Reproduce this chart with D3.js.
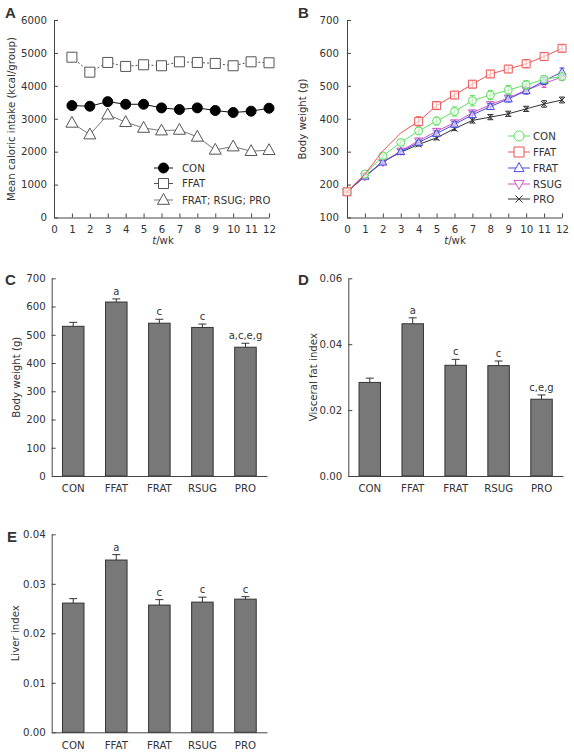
<!DOCTYPE html>
<html><head><meta charset="utf-8">
<script src="https://cdn.jsdelivr.net/npm/d3@7"></script>
<style>
body{margin:0;background:#fff}
text{font-family:"DejaVu Sans",Verdana,sans-serif;fill:#333}
</style>
</head><body>
<svg id="c" width="574" height="752"></svg>
<script>
// ---------- DATA ----------
// Panel A: mean caloric intake (kcal/group)
const weeksA = [1,2,3,4,5,6,7,8,9,10,11,12];
const caloricCON  = [3400,3380,3520,3440,3440,3330,3280,3330,3250,3190,3230,3320];
const caloricFFAT = [4870,4415,4710,4590,4640,4610,4730,4710,4680,4610,4730,4700];
const caloricFRAT = [2875,2520,3125,2895,2720,2640,2660,2450,2055,2155,2015,2045];
const seriesA = ["CON","FFAT","FRAT; RSUG; PRO"];
const ticksAy = [0,1000,2000,3000,4000,5000,6000];
const ticksAx = [0,1,2,3,4,5,6,7,8,9,10,11,12];

// Panel B: body weight (g) by week
const weeksB = [0,1,2,3,4,5,6,7,8,9,10,11,12];
const bwCON  = [178,232,287,328,363,393,422,455,472,487,503,520,528];
const bwFFAT = [178,232,302,357,392,440,472,505,536,551,567,589,614];
const bwFRAT = [178,225,268,300,328,355,383,412,437,460,485,515,542];
const bwRSUG = [178,225,268,302,333,362,388,418,443,463,487,507,527];
const bwPRO  = [178,225,270,298,322,342,370,395,405,415,430,445,457];
const errCON  = [3,4,6,8,10,12,14,16,14,14,13,10,8];
const errFFAT = [3,4,6,8,14,10,10,10,10,10,12,12,10];
const errFRAT = [3,3,5,6,7,8,8,9,9,9,10,11,12];
const errRSUG = [3,3,5,6,6,7,7,8,8,8,9,12,10];
const errPRO  = [3,3,4,5,5,6,6,8,8,8,8,10,9];
const groupsB = ["CON","FFAT","FRAT","RSUG","PRO"];
const ticksBy = [100,200,300,400,500,600,700];

// Bar panels
const groups = ["CON","FFAT","FRAT","RSUG","PRO"];
const bodyWeight    = [530,616,541,526,456];
const bodyWeightErr = [14,11,14,12,14];
const bodyWeightSig = ["","a","c","c","a,c,e,g"];
const ticksC = [0,100,200,300,400,500,600,700];

const visceralFat    = [0.0284,0.0462,0.0336,0.0335,0.0233];
const visceralFatErr = [0.0013,0.0018,0.0018,0.0014,0.0013];
const visceralFatSig = ["","a","c","c","c,e,g"];
const ticksD = [0.00,0.02,0.04,0.06];

const liverIndex    = [0.0261,0.0348,0.0257,0.0263,0.0269];
const liverIndexErr = [0.0009,0.0011,0.0011,0.0010,0.0005];
const liverIndexSig = ["","a","c","c","c"];
const ticksE = [0.00,0.01,0.02,0.03,0.04];

// ---------- DRAW ----------
const svg = d3.select("#c");
const FS = 10.2;
const axisColor = "#444";

function styleAxis(g){
  g.selectAll("path,line").attr("stroke",axisColor).attr("stroke-width",1);
  g.selectAll("text").style("font-size",FS+"px").attr("fill","#333");
}

function panelLetter(t,x,y){
  svg.append("text").attr("x",x).attr("y",y).text(t)
    .style("font-family","'Liberation Sans',Arial,sans-serif")
    .style("font-weight","bold").style("font-size","15px").attr("fill","#111");
}

function markerPath(type,size){
  const s=size;
  if(type==="circle") return d3.symbol(d3.symbolCircle, s*s*Math.PI/4)();
  if(type==="square") return `M${-s/2},${-s/2}h${s}v${s}h${-s}Z`;
  if(type==="triUp") {const h=s*0.9; return `M0,${-h*0.6}L${s/2},${h*0.4}L${-s/2},${h*0.4}Z`;}
  if(type==="triDown"){const h=s*0.9; return `M0,${h*0.6}L${s/2},${-h*0.4}L${-s/2},${-h*0.4}Z`;}
  if(type==="x") {const r=s/2; return `M${-r},${-r}L${r},${r}M${-r},${r}L${r},${-r}`;}
}

// ===== Panel A =====
(function(){
  const x = d3.scaleLinear().domain([0,12]).range([54,269]);
  const y = d3.scaleLinear().domain([0,6000]).range([217.5,20]);
  const gx = svg.append("g").attr("transform","translate(0,217.5)")
    .call(d3.axisBottom(x).tickValues(ticksAx).tickSizeInner(-4).tickSizeOuter(0).tickPadding(8).tickFormat(d3.format("d")));
  styleAxis(gx);
  const gy = svg.append("g").attr("transform","translate(54,0)")
    .call(d3.axisLeft(y).tickValues(ticksAy).tickSizeInner(-4).tickSizeOuter(0).tickPadding(7).tickFormat(d3.format("d")));
  styleAxis(gy);
  svg.append("text").attr("transform","translate(15,119) rotate(-90)").attr("text-anchor","middle")
    .style("font-size",FS+"px").text("Mean caloric intake (kcal/group)");
  const xt = svg.append("text").attr("x",163).attr("y",244).attr("text-anchor","middle").style("font-size",FS+"px");
  xt.append("tspan").style("font-style","italic").text("t");
  xt.append("tspan").text("/wk");

  const defs = [
    {vals:caloricCON, stroke:"#111", dash:null, mk:"circle", fill:"#000", size:10},
    {vals:caloricFFAT, stroke:"#555", dash:"2,2", mk:"square", fill:"#fff", size:10},
    {vals:caloricFRAT, stroke:"#777", dash:null, mk:"triUp", fill:"#fff", size:12}
  ];
  const line = d3.line().x((d,i)=>x(weeksA[i])).y(d=>y(d));
  defs.forEach(s=>{
    svg.append("path").attr("d",line(s.vals)).attr("fill","none").attr("stroke",s.stroke)
      .attr("stroke-width",1).attr("stroke-dasharray",s.dash);
    svg.append("g").selectAll("path").data(s.vals).join("path")
      .attr("transform",(d,i)=>`translate(${x(weeksA[i])},${y(d)})`)
      .attr("d",markerPath(s.mk,s.size)).attr("fill",s.fill).attr("stroke",s.mk==="circle"?"#000":"#555").attr("stroke-width",1);
  });
  // legend
  const ly=[168,183.5,200];
  defs.forEach((s,i)=>{
    svg.append("line").attr("x1",154).attr("x2",173).attr("y1",ly[i]).attr("y2",ly[i]).attr("stroke",s.stroke);
    svg.append("path").attr("transform",`translate(163.5,${ly[i]})`).attr("d",markerPath(s.mk,s.size))
      .attr("fill",s.fill).attr("stroke",s.mk==="circle"?"#000":"#555");
    svg.append("text").attr("x",182).attr("y",ly[i]).attr("dy","0.35em").style("font-size",FS+"px").text(seriesA[i]);
  });
  panelLetter("A",5,18);
})();

// ===== Panel B =====
(function(){
  const x = d3.scaleLinear().domain([0,12]).range([347,562]);
  const y = d3.scaleLinear().domain([100,700]).range([217.5,20]);
  const gx = svg.append("g").attr("transform","translate(0,217.5)")
    .call(d3.axisBottom(x).tickValues(ticksAx).tickSizeInner(-4).tickSizeOuter(0).tickPadding(8).tickFormat(d3.format("d")));
  styleAxis(gx);
  const gy = svg.append("g").attr("transform","translate(347,0)")
    .call(d3.axisLeft(y).tickValues(ticksBy).tickSizeInner(-4).tickSizeOuter(0).tickPadding(8).tickFormat(d3.format("d")));
  styleAxis(gy);
  svg.append("text").attr("transform","translate(306,119) rotate(-90)").attr("text-anchor","middle")
    .style("font-size",FS+"px").text("Body weight (g)");
  const xt = svg.append("text").attr("x",455).attr("y",244).attr("text-anchor","middle").style("font-size",FS+"px");
  xt.append("tspan").style("font-style","italic").text("t");
  xt.append("tspan").text("/wk");

  const series = [
    {vals:bwPRO,  err:errPRO,  color:"#333",    mk:"x"},
    {vals:bwRSUG, err:errRSUG, color:"#d055c8", mk:"triDown"},
    {vals:bwFRAT, err:errFRAT, color:"#4a4ad8", mk:"triUp"},
    {vals:bwCON,  err:errCON,  color:"#5fe05f", mk:"circle"},
    {vals:bwFFAT, err:errFFAT, color:"#ee5555", mk:"square"}
  ];
  const names = {x:"PRO",triDown:"RSUG",triUp:"FRAT",circle:"CON",square:"FFAT"};
  const line = d3.line().x((d,i)=>x(weeksB[i])).y(d=>y(d));
  series.forEach(s=>{
    svg.append("path").attr("d",line(s.vals)).attr("fill","none").attr("stroke",s.color).attr("stroke-width",1);
    const pts = s.vals.map((v,i)=>({w:weeksB[i],v,e:s.err[i]}))
      .filter(p=> s.mk!=="square" || p.w===0 || p.w>=4);
    const g = svg.append("g");
    g.selectAll("path.eb").data(pts).join("path").attr("class","eb")
      .attr("d",p=>{const cx=x(p.w),t=y(p.v+p.e),b=y(p.v-p.e);return `M${cx},${t}V${b}M${cx-2.5},${t}h5M${cx-2.5},${b}h5`;})
      .attr("stroke",s.color).attr("fill","none").attr("stroke-width",1);
    g.selectAll("path.mk").data(pts).join("path").attr("class","mk")
      .attr("transform",p=>`translate(${x(p.w)},${y(p.v)})`)
      .attr("d",markerPath(s.mk,s.mk==="x"?6:8)).attr("fill",s.mk==="x"?"none":"rgba(255,255,255,0.6)")
      .attr("stroke",s.color).attr("stroke-width",1);
  });
  // legend
  const order = ["circle","square","triUp","triDown","x"];
  const ly=[136,152,168,184,199];
  order.forEach((mk,i)=>{
    const s = series.find(q=>q.mk===mk);
    svg.append("line").attr("x1",508).attr("x2",530).attr("y1",ly[i]).attr("y2",ly[i]).attr("stroke",s.color);
    svg.append("path").attr("transform",`translate(519,${ly[i]})`).attr("d",markerPath(mk,mk==="x"?7:10))
      .attr("fill","#fff").attr("fill-opacity",mk==="x"?0:1).attr("stroke",s.color);
    svg.append("text").attr("x",533).attr("y",ly[i]).attr("dy","0.35em").style("font-size",FS+"px").text(names[mk]);
  });
  panelLetter("B",298,18);
})();

// ===== Bar panels =====
function barPanel(opt){
  const x = d3.scaleBand().domain(groups).range([opt.x0,opt.x1]).paddingInner(0.5).paddingOuter(0.25);
  const y = d3.scaleLinear().domain([0,opt.max]).range([opt.yb,opt.yt]);
  const g = svg.append("g");
  g.selectAll("rect").data(opt.vals).join("rect")
    .attr("x",(d,i)=>x(groups[i])).attr("width",x.bandwidth())
    .attr("y",d=>y(d)).attr("height",d=>opt.yb-y(d))
    .attr("fill","#787878").attr("stroke","#333").attr("stroke-width",1);
  g.selectAll("path.eb").data(opt.vals).join("path").attr("class","eb")
    .attr("d",(d,i)=>{const cx=x(groups[i])+x.bandwidth()/2,t=y(d+opt.err[i]);return `M${cx},${y(d)}V${t}M${cx-4},${t}h8`;})
    .attr("stroke","#333").attr("fill","none");
  g.selectAll("text.sig").data(opt.vals).join("text").attr("class","sig")
    .attr("x",(d,i)=>x(groups[i])+x.bandwidth()/2).attr("y",(d,i)=>y(d+opt.err[i])-4)
    .attr("text-anchor","middle").style("font-size","10px").text((d,i)=>opt.sig[i]);
  const gx = svg.append("g").attr("transform",`translate(0,${opt.yb})`)
    .call(d3.axisBottom(x).tickSize(0).tickPadding(9));
  styleAxis(gx);
  const gy = svg.append("g").attr("transform",`translate(${opt.x0},0)`)
    .call(d3.axisLeft(y).tickValues(opt.ticks).tickSizeInner(-4).tickSizeOuter(0).tickPadding(6).tickFormat(opt.fmt));
  styleAxis(gy);
  svg.append("text").attr("transform",`translate(${opt.tx},${(opt.yb+opt.yt)/2}) rotate(-90)`).attr("text-anchor","middle")
    .style("font-size",FS+"px").text(opt.title);
}

barPanel({vals:bodyWeight,err:bodyWeightErr,sig:bodyWeightSig,ticks:ticksC,max:700,fmt:d3.format("d"),
  x0:51.7,x1:267,yb:476,yt:278.3,tx:20,title:"Body weight (g)"});
panelLetter("C",5,285);

barPanel({vals:visceralFat,err:visceralFatErr,sig:visceralFatSig,ticks:ticksD,max:0.06,fmt:d3.format(".2f"),
  x0:348.3,x1:563,yb:476,yt:278.3,tx:317,title:"Visceral fat index"});
panelLetter("D",298,285);

barPanel({vals:liverIndex,err:liverIndexErr,sig:liverIndexSig,ticks:ticksE,max:0.04,fmt:d3.format(".2f"),
  x0:51.7,x1:267,yb:732.3,yt:534.3,tx:19,title:"Liver index"});
panelLetter("E",7,542);
</script>
</body></html>
